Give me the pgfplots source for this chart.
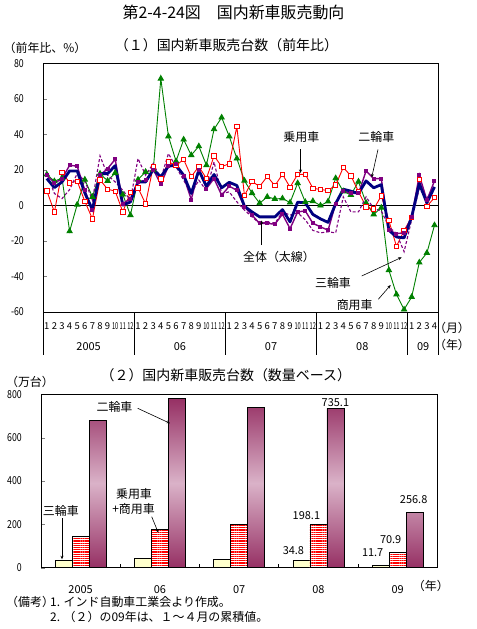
\documentclass[border=0pt]{standalone}
\usepackage{fontspec}
\setmainfont{Noto Sans CJK JP}
\usepackage{graphicx}
\usepackage{pgfplots}
\pgfplotsset{compat=1.18}
\usepackage{pgfplotstable}
\usetikzlibrary{patterns.meta,arrows.meta}

\definecolor{totalc}{RGB}{0,0,128}
\definecolor{carc}{RGB}{255,0,0}
\definecolor{twoc}{RGB}{128,0,128}
\definecolor{commc}{RGB}{0,128,0}
\definecolor{maroonD}{RGB}{150,48,100}
\definecolor{pinkL}{RGB}{218,178,200}
\definecolor{paleY}{RGB}{255,255,204}

\newcommand\nd[1]{\scalebox{0.8}[1]{#1}}
\newcommand\tw[1]{\scalebox{0.6}[1]{#1}}

% monthly year-on-year growth (%), Jan 2005 = 0 ... Apr 2009 = 51
\pgfplotstableread{
m total car two three comm
0 15.2 8.3 17.0 18.0 17.5
1 10.1 -3.6 12.8 6.8 13.7
2 13.3 18.8 15.0 3.9 15.5
3 19.5 12.8 22.7 9.0 -14.5
4 19.5 13.7 22.2 18.0 0.5
5 7.1 2.4 8.6 14.0 14.6
6 -2.3 -7.5 -2.6 3.0 4.9
7 18.0 14.5 17.1 28.0 18.0
8 18.0 9.2 20.8 17.1 13.9
9 22.5 8.1 26.1 13.3 18.4
10 0.2 -3.6 1.1 8.6 6.2
11 2.0 7.5 3.9 3.0 -5.4
12 13.3 10.0 13.3 26.5 14.6
13 13.3 0.9 14.3 17.1 19.0
14 20.3 22.2 20.3 23.7 19.9
15 16.2 15.0 12.0 15.2 71.5
16 22.2 24.6 22.2 29.3 39.0
17 22.7 22.6 23.5 21.8 25.0
18 17.1 26.0 16.5 14.3 37.2
19 6.8 16.3 3.4 6.8 28.4
20 19.9 22.0 19.9 14.3 33.4
21 10.9 15.2 9.6 8.3 22.7
22 17.5 28.0 15.2 24.6 43.0
23 10.0 22.0 5.8 6.8 49.6
24 13.1 23.5 10.9 7.7 39.0
25 11.3 44.5 8.6 2.1 26.5
26 -0.4 5.7 -0.8 -2.6 14.0
27 -3.6 13.5 -5.4 -6.4 7.0
28 -6.4 10.8 -10.1 -10.1 1.3
29 -6.4 16.4 -10.1 -9.2 4.9
30 -6.4 11.2 -10.5 -10.1 3.7
31 -2.3 17.6 -4.9 -3.6 4.0
32 -9.2 10.3 -13.0 -5.4 1.7
33 1.9 17.6 -3.6 -4.1 12.6
34 1.5 17.6 -3.0 -8.0 2.0
35 -5.0 9.8 -10.0 -14.0 2.5
36 -7.5 9.0 -12.0 -15.4 0.0
37 -9.5 8.5 -13.9 -14.8 2.3
38 1.1 11.5 1.0 -15.4 15.4
39 9.2 21.5 8.3 4.9 8.0
40 8.1 16.7 6.8 -3.6 6.0
41 6.8 8.0 6.8 -3.6 13.5
42 13.9 -0.9 19.5 4.9 1.5
43 10.0 -2.0 15.2 -1.7 -5.0
44 11.8 5.5 15.2 -3.0 -1.2
45 -13.9 -8.5 -13.9 -12.0 -36.4
46 -17.7 -23.0 -15.8 -15.8 -50.1
47 -18.2 -14.0 -15.4 -26.0 -58.6
48 -6.4 -6.6 -6.4 -8.0 -51.5
49 12.4 14.8 17.1 9.6 -32.1
50 1.5 -0.5 3.0 3.9 -26.7
51 10.5 4.5 13.9 10.9 -11.1
}\growth

% annual sales (10 thousand units); 2009 is Jan-Apr
\pgfplotstableread{
g tri car two
0 35.5 145.5 681
1 43.5 178 780
2 40 200.5 741
3 34.8 198.1 735.1
4 11.7 70.9 256.8
}\units

\begin{document}
\begin{tikzpicture}
\useasboundingbox (0,0) rectangle (477bp,-629bp);

% ---------- (1) growth rates ----------
\begin{axis}[
  at={(43bp,-312bp)}, anchor=south west, scale only axis,
  width=395.3bp, height=248.4bp,
  xmin=-0.5, xmax=51.5, ymin=-60, ymax=80,
  clip=false,
  axis line style={line width=0.8bp},
  tick align=inside, major tick length=4bp,
  ytick={-60,-40,...,80}, ytick pos=left,
  /pgf/number format/assume math mode=true,
  yticklabel={\nd{\pgfmathprintnumber{\tick}}},
  yticklabel style={font=\fontsize{11}{11}\selectfont, inner sep=0pt, anchor=east, xshift=-19bp},
  xtick={0,...,51}, xtick style={draw=none},
  xticklabels={1,2,3,4,5,6,7,8,9,\tw{10},\tw{11},\tw{12},1,2,3,4,5,6,7,8,9,\tw{10},\tw{11},\tw{12},1,2,3,4,5,6,7,8,9,\tw{10},\tw{11},\tw{12},1,2,3,4,5,6,7,8,9,\tw{10},\tw{11},\tw{12},1,2,3,4},
  xticklabel style={font=\fontsize{9.5}{9.5}\selectfont, inner sep=0pt, anchor=center, yshift=-14.5bp},
]
\draw[line width=0.8bp] (axis cs:-0.5,0) -- (axis cs:51.5,0);
\addplot[commc, line width=0.9bp, mark=triangle*, mark size=3bp, mark options={fill=commc, solid}] table[x=m,y=comm]{\growth};
\addplot[carc, line width=0.9bp, mark=square*, mark size=2.2bp, mark options={fill=white, solid}] table[x=m,y=car]{\growth};
\addplot[twoc, line width=1.1bp, dash pattern=on 3bp off 2bp] table[x=m,y=three]{\growth};
\addplot[twoc, line width=1.4bp, mark=square*, mark size=1.3bp] table[x=m,y=two]{\growth};
\addplot[totalc, line width=2.8bp, line join=round] table[x=m,y=total]{\growth};
\node[font=\fontsize{11}{11}\selectfont] at (axis cs:5.5,-60) [yshift=-35bp] {2005};
\node[font=\fontsize{11}{11}\selectfont] at (axis cs:17.5,-60) [yshift=-35bp] {06};
\node[font=\fontsize{11}{11}\selectfont] at (axis cs:29.5,-60) [yshift=-35bp] {07};
\node[font=\fontsize{11}{11}\selectfont] at (axis cs:41.5,-60) [yshift=-35bp] {08};
\node[font=\fontsize{11}{11}\selectfont] at (axis cs:49.5,-60) [yshift=-35bp] {09};
\end{axis}

% ---------- (2) unit sales ----------
\begin{axis}[
  at={(41bp,-567.7bp)}, anchor=south west, scale only axis,
  width=396.3bp, height=173.4bp,
  xmin=-0.5, xmax=4.5, ymin=0, ymax=800,
  clip=false,
  axis line style={line width=0.8bp},
  tick align=inside, major tick length=4bp,
  ytick={0,200,...,800}, ytick pos=left,
  /pgf/number format/assume math mode=true,
  yticklabel={\nd{\pgfmathprintnumber{\tick}}},
  yticklabel style={font=\fontsize{11}{11}\selectfont, inner sep=0pt, anchor=east, xshift=-19bp},
  xtick={0,...,4}, xtick style={draw=none},
  xticklabels={2005,06,07,08,09},
  xticklabel style={font=\fontsize{11}{11}\selectfont, inner sep=0pt, anchor=center, yshift=-17.5bp},
  ybar, bar width=17bp,
]
\addplot[ybar, bar shift=-17bp, draw=black, line width=0.7bp, fill=paleY] table[x=g,y=tri]{\units};
\addplot[ybar, bar shift=0bp, draw=black, line width=0.7bp, fill=white,
  postaction={pattern={Lines[angle=0,distance=2.2bp,line width=1.1bp]}, pattern color=carc}] table[x=g,y=car]{\units};
\addplot[ybar, bar shift=17bp, draw=black, line width=0.7bp, top color=maroonD, bottom color=maroonD, middle color=pinkL] table[x=g,y=two]{\units};
\begin{scope}[every node/.style={font=\fontsize{11}{11}\selectfont, inner sep=0pt}]
\node at (axis cs:3,34.8) [xshift=-25bp, yshift=9.5bp] {34.8};
\node at (axis cs:3,198.1) [xshift=-12bp, yshift=9bp] {198.1};
\node at (axis cs:3,735.1) [xshift=17bp, yshift=5.5bp] {735.1};
\node at (axis cs:4,11.7) [xshift=-25bp, yshift=12.5bp] {11.7};
\node at (axis cs:4,70.9) [xshift=-7bp, yshift=13bp] {70.9};
\node at (axis cs:4,256.8) [xshift=16bp, yshift=12.5bp] {256.8};
\end{scope}
\end{axis}

% ---------- titles, notes, separators and callouts ----------
\begin{scope}[x=1bp, y=-1bp]
% year separators under the monthly axis
\foreach \sx in {43,134.2,225.4,316.6,407.8,438.3}
  \draw[line width=0.8bp] (\sx,312) -- (\sx,355);
% group boundary ticks of the bar axis
\foreach \sx in {120.3,199.5,278.8,358.0}
  \draw[line width=0.8bp] (\sx,567.7) -- (\sx,563.7);

\node[font=\fontsize{16}{16}\selectfont] at (233.5,12) {第2-4-24図　国内新車販売動向};
\node[font=\fontsize{14}{14}\selectfont] at (226.5,45) {（１）国内新車販売台数（前年比）};
\node[font=\fontsize{12}{12}\selectfont] at (45,47.5) {（前年比、\%）};
\node[font=\fontsize{12}{12}\selectfont] at (452,328) {（月）};
\node[font=\fontsize{12}{12}\selectfont] at (452,345) {（年）};

\begin{scope}[every node/.style={font=\fontsize{12}{12}\selectfont}]
\node at (301.3,136.7) {乗用車};
\draw[-{Stealth[length=3.5bp,width=3bp]}, line width=0.6bp] (300.5,149) -- (300.5,173);
\node at (376.3,136.7) {二輪車};
\draw[-{Stealth[length=3.5bp,width=3bp]}, line width=0.6bp] (378,149.5) -- (371.7,177.5);
\node at (279,256.7) {全体（太線）};
\draw[-{Stealth[length=3.5bp,width=3bp]}, line width=0.6bp] (261.7,245) -- (261.7,220.5);
\node at (333,282.7) {三輪車};
\draw[-{Stealth[length=3.5bp,width=3bp]}, line width=0.6bp] (361.7,276) -- (401.7,257.3);
\node at (354.7,305) {商用車};
\draw[-{Stealth[length=3.5bp,width=3bp]}, line width=0.6bp] (378.3,299.3) -- (390.7,285);
\end{scope}

\node[font=\fontsize{14}{14}\selectfont] at (225.8,375) {（２）国内新車販売台数（数量ベース）};
\node[font=\fontsize{12}{12}\selectfont] at (30,381.7) {（万台）};
\node[font=\fontsize{12}{12}\selectfont] at (430.8,585.7) {（年）};

\begin{scope}[every node/.style={font=\fontsize{12}{12}\selectfont}]
\node at (114.5,406.7) {二輪車};
\draw[-{Stealth[length=3.5bp,width=3bp]}, line width=0.6bp] (137.7,408.3) -- (170,423.3);
\node at (60.8,511) {三輪車};
\draw[-{Stealth[length=3.5bp,width=3bp]}, line width=0.6bp] (62,518.3) -- (62,559.3);
\node at (134,494) {乗用車};
\node at (133.5,509.3) {+商用車};
\draw[-{Stealth[length=3.5bp,width=3bp]}, line width=0.6bp] (151.7,516.7) -- (158.3,532.7);
\end{scope}

\node[font=\fontsize{12}{12}\selectfont, anchor=west, inner sep=0pt] at (6,601.7) {（備考）};
\node[font=\fontsize{12}{12}\selectfont, anchor=west, inner sep=0pt] at (50,601.7) {1. インド自動車工業会より作成。};
\node[font=\fontsize{12}{12}\selectfont, anchor=west, inner sep=0pt] at (50,616.7) {2. （２）の09年は、１～４月の累積値。};
\end{scope}
\end{tikzpicture}
\end{document}
